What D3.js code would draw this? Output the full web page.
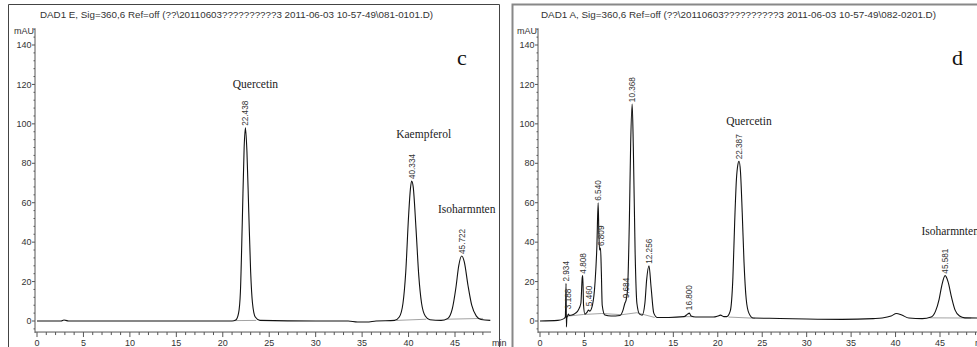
<!DOCTYPE html>
<html><head><meta charset="utf-8">
<script src="https://cdn.jsdelivr.net/npm/d3@7"></script>
<style>body{margin:0;background:#fff}svg{display:block}</style>
</head><body>
<svg id="chart" width="977" height="347"></svg>
<script>
// ---------------- DATA ----------------
const titleC = "DAD1 E, Sig=360,6 Ref=off (??\\20110603??????????3 2011-06-03 10-57-49\\081-0101.D)";
const titleD = "DAD1 A, Sig=360,6 Ref=off (??\\20110603??????????3 2011-06-03 10-57-49\\082-0201.D)";
const yTicks = [0, 20, 40, 60, 80, 100, 120, 140];
const xTicks = [0, 5, 10, 15, 20, 25, 30, 35, 40, 45];
const yUnit = "mAU";
const xUnit = "min";

// panel c trace (min, mAU)
const cTime = [0, 2.6, 2.9, 3.1, 3.4, 10, 20, 21.0, 21.4, 21.7, 21.9, 22.1, 22.3, 22.44, 22.6, 22.8, 23.0, 23.2, 23.5, 24.0, 30, 33.5, 34.5, 35.5, 36.5, 38.5, 39.0, 39.4, 39.7, 40.0, 40.2, 40.33, 40.5, 40.8, 41.1, 41.4, 41.8, 42.3, 43.5, 44.2, 44.7, 45.1, 45.4, 45.72, 46.0, 46.4, 46.8, 47.3, 47.8, 48.8];
const cSignal = [0, 0, 0.5, 0.3, 0, 0, 0, 0, 0.5, 4, 15, 50, 88, 98, 86, 55, 25, 9, 2, 0.3, 0, 0, -0.5, -0.5, 0, 0.3, 2, 9, 25, 53, 67, 71, 68, 47, 23, 9, 2.5, 0.6, 0.3, 1.2, 6, 17, 28, 33, 30, 18, 8, 2.5, 0.8, 0.3];
const cPeakTime = [22.438, 40.334, 45.722];
const cPeakHeight = [98, 71, 33];
const cPeakLabel = ["22.438", "40.334", "45.722"];
const cNames = ["Quercetin", "Kaempferol", "Isoharmnten"];
const cNameTime = [22.438, 40.334, 45.722];
const cNameHeight = [98, 71, 33];
// integration baselines for c
const cBase = [
  {t: [21.3, 23.6], v: [0.2, 0.3]},
  {t: [38.7, 41.9], v: [0.3, 0.9]},
  {t: [44.0, 48.0], v: [0.9, 1.3]}
];

// panel d trace (min, mAU)
const dTime = [0, 2.0, 2.7, 2.85, 2.93, 2.97, 3.02, 3.1, 3.19, 3.3, 3.6, 4.0, 4.3, 4.6, 4.75, 4.81, 4.9, 5.05, 5.3, 5.46, 5.6, 5.9, 6.2, 6.4, 6.54, 6.62, 6.7, 6.81, 6.9, 7.0, 7.3, 8.0, 9.0, 9.3, 9.55, 9.68, 9.85, 10.05, 10.2, 10.37, 10.5, 10.7, 10.9, 11.2, 11.5, 11.8, 12.0, 12.26, 12.5, 12.8, 13.2, 14.5, 16.2, 16.6, 16.8, 17.0, 17.5, 19.5, 20.0, 20.3, 20.7, 21.0, 21.4, 21.7, 21.9, 22.1, 22.25, 22.39, 22.55, 22.75, 22.95, 23.2, 23.5, 24.0, 27, 30, 34, 37.5, 38.5, 39.5, 40.1, 40.7, 41.5, 43.0, 44.0, 44.5, 44.9, 45.2, 45.58, 45.9, 46.3, 46.7, 47.2, 47.8, 49.5];
const dSignal = [0, 0.3, 1.2, 2, 19, -3, 1.5, 2.5, 3.5, 2.8, 3, 4, 5.5, 9, 22, 23, 8, 3.5, 4.5, 5.5, 5, 8, 20, 38, 60, 45, 36, 37, 25, 8, 3, 2.5, 2.8, 5, 9, 10.5, 16, 50, 90, 110, 88, 35, 9, 3.5, 3, 9, 21, 28, 17, 4, 1.8, 1.8, 2.2, 3.5, 4, 2.5, 2, 2, 2.5, 3, 2.2, 2.2, 5, 22, 50, 72, 79, 81, 76, 55, 30, 11, 4, 1.5, 1.3, 1, 0.8, 1.2, 1.5, 2.5, 3.8, 3, 1.5, 1.2, 2, 5, 11, 18, 23, 20, 12, 5.5, 2.5, 1.6, 1.5];
const dPeakTime = [2.934, 3.188, 4.808, 5.460, 6.540, 6.809, 9.684, 10.368, 12.256, 16.800, 22.387, 45.581];
const dPeakHeight = [19, 5, 23, 6.5, 60, 37, 10.5, 110, 28, 4.5, 81, 23];
const dPeakLabel = ["2.934", "3.188", "4.808", "5.460", "6.540", "6.809", "9.684", "10.368", "12.256", "16.800", "22.387", "45.581"];
const dNames = ["Quercetin", "Isoharmnten"];
const dNameTime = [22.387, 45.581];
const dNameHeight = [81, 23];
const dBase = [
  {t: [2.95, 4.9, 6.95, 9.2, 10.9, 12.9], v: [2.4, 3.3, 3.8, 3.2, 4.2, 1.8]},
  {t: [16.3, 17.3], v: [2.2, 2.2]},
  {t: [21.2, 24.2], v: [2.0, 1.4]},
  {t: [43.8, 48.5], v: [1.6, 1.5]}
];

// ---------------- DRAWING ----------------
const svg = d3.select("#chart");
const FONT = "'Liberation Sans', Arial, sans-serif";
const SERIF = "'Liberation Serif', 'Times New Roman', serif";
const TXT = "#333";
const AX = "#555";

function panel(cfg) {
  const g = svg.append("g");
  const x = d3.scaleLinear().domain([0, 45]).range([cfg.x0, cfg.x45]);
  const y = d3.scaleLinear().domain([0, 140]).range([321, 45]);
  const axX = cfg.yAxisX;
  const axY = y(-5.6);

  // title
  g.append("text").attr("x", cfg.titleX).attr("y", 18)
    .attr("font-family", FONT).attr("font-size", 9.5).attr("fill", TXT)
    .attr("textLength", cfg.titleW).attr("lengthAdjust", "spacingAndGlyphs")
    .text(cfg.title);

  // y axis
  g.append("line").attr("x1", axX).attr("x2", axX).attr("y1", y(148.5)).attr("y2", axY + 1)
    .attr("stroke", AX).attr("stroke-width", 1);
  const yMinor = d3.range(-4, 149, 4).filter(v => v % 20 !== 0);
  g.selectAll(".ymin").data(yMinor).join("line")
    .attr("x1", axX - 1.5).attr("x2", axX).attr("y1", d => y(d)).attr("y2", d => y(d))
    .attr("stroke", AX);
  g.selectAll(".ymaj").data(yTicks).join("line")
    .attr("x1", axX - 3).attr("x2", axX).attr("y1", d => y(d)).attr("y2", d => y(d))
    .attr("stroke", AX);
  g.selectAll(".ylab").data(yTicks).join("text")
    .attr("x", axX - 3.5).attr("y", d => y(d)).attr("dy", "0.35em")
    .attr("text-anchor", "end").attr("font-family", FONT).attr("font-size", 9).attr("fill", TXT)
    .text(d => d);
  g.append("text").attr("x", axX - 1).attr("y", 31).attr("dy", "0.35em")
    .attr("text-anchor", "end").attr("font-family", FONT).attr("font-size", 9).attr("fill", TXT)
    .text(yUnit);

  // x axis
  g.append("line").attr("x1", axX).attr("x2", cfg.xEnd).attr("y1", axY).attr("y2", axY)
    .attr("stroke", AX);
  const xMinor = d3.range(0, cfg.tMax + 0.01, 1).filter(v => v % 5 !== 0);
  g.selectAll(".xmin").data(xMinor).join("line")
    .attr("x1", d => x(d)).attr("x2", d => x(d)).attr("y1", axY).attr("y2", axY + 3)
    .attr("stroke", AX);
  g.selectAll(".xmaj").data(xTicks).join("line")
    .attr("x1", d => x(d)).attr("x2", d => x(d)).attr("y1", axY).attr("y2", axY + 5)
    .attr("stroke", AX);
  g.selectAll(".xlab").data(xTicks).join("text")
    .attr("x", d => x(d)).attr("y", 346)
    .attr("text-anchor", "middle").attr("font-family", FONT).attr("font-size", 9).attr("fill", TXT)
    .text(d => d);
  g.append("text").attr("x", cfg.minX).attr("y", 346)
    .attr("font-family", FONT).attr("font-size", 9).attr("fill", TXT)
    .text(xUnit);

  // integration baselines
  cfg.base.forEach(b => {
    const pts = b.t.map((t, i) => [x(t), y(b.v[i])]);
    g.append("path").attr("d", d3.line()(pts)).attr("fill", "none")
      .attr("stroke", "#999").attr("stroke-width", 0.9);
  });

  // trace
  const pts = cfg.time.map((t, i) => [x(t), y(cfg.signal[i])]);
  g.append("path").attr("d", d3.line().curve(d3.curveMonotoneX)(pts))
    .attr("fill", "none").attr("stroke", "#111").attr("stroke-width", 1.1);

  // peak labels
  cfg.peakTime.forEach((t, i) => {
    const px = x(t) + 3, py = y(cfg.peakHeight[i]) - 2;
    g.append("text").attr("transform", `translate(${px},${py}) rotate(-90)`)
      .attr("font-family", FONT).attr("font-size", 8.2).attr("fill", TXT)
      .text(cfg.peakLabel[i]);
  });

  // compound names
  cfg.names.forEach((n, i) => {
    g.append("text").attr("x", x(cfg.nameTime[i]) + cfg.nameDx[i]).attr("y", y(cfg.nameHeight[i]) + cfg.nameDy[i])
      .attr("text-anchor", "middle").attr("font-family", SERIF).attr("font-size", 11.5)
      .attr("fill", "#222").text(n);
  });

  // panel letter
  g.append("text").attr("x", cfg.letterX).attr("y", 65)
    .attr("font-family", SERIF).attr("font-size", 22).attr("fill", "#111").text(cfg.letter);
  return g;
}

panel({
  title: titleC, titleX: 40, titleW: 393,
  x0: 37, x45: 455, yAxisX: 35, xEnd: 491, tMax: 48, minX: 492,
  time: cTime, signal: cSignal, base: cBase,
  peakTime: cPeakTime, peakHeight: cPeakHeight, peakLabel: cPeakLabel,
  names: cNames, nameTime: cNameTime, nameHeight: cNameHeight,
  nameDx: [10, 12, 5], nameDy: [-40, -43, -43],
  letter: "c", letterX: 457
});
panel({
  title: titleD, titleX: 541, titleW: 395,
  x0: 540, x45: 940, yAxisX: 538, xEnd: 977, tMax: 49, minX: 975,
  time: dTime, signal: dSignal, base: dBase,
  peakTime: dPeakTime, peakHeight: dPeakHeight, peakLabel: dPeakLabel,
  names: dNames, nameTime: dNameTime, nameHeight: dNameHeight,
  nameDx: [10, 5], nameDy: [-36, -41],
  letter: "d", letterX: 952
});

// panel frames
svg.append("path").attr("d", "M8.5,347 V4.5 H499.5 V347").attr("fill", "none")
  .attr("stroke", "#444").attr("stroke-width", 1);
svg.append("path").attr("d", "M512.5,347 V4.5 H977").attr("fill", "none")
  .attr("stroke", "#888").attr("stroke-width", 2);
</script>
</body></html>
